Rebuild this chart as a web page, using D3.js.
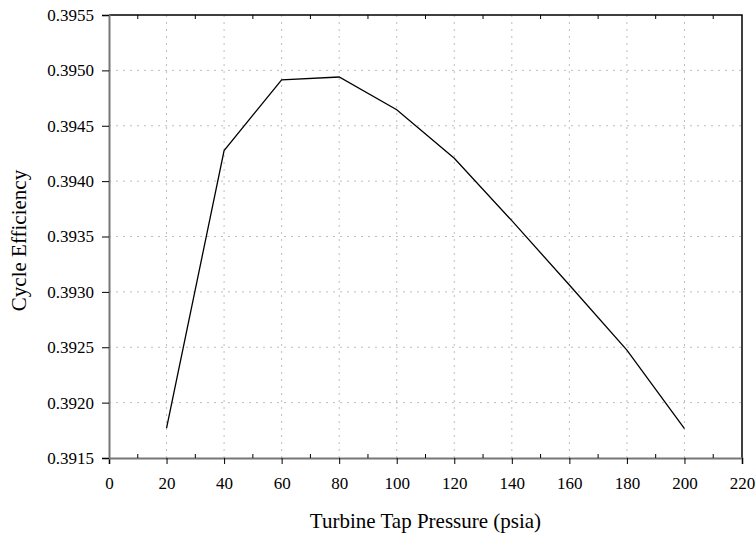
<!DOCTYPE html>
<html>
<head>
<meta charset="utf-8">
<script src="https://cdn.jsdelivr.net/npm/d3@7"></script>
<style>
  body { margin: 0; background: #fff; }
  svg { display: block; font-family: "Liberation Serif", "Times New Roman", serif; }
</style>
</head>
<body>
<script>
// turbine tap pressure (psia)
const pressure = [20, 40, 60, 80, 100, 120, 140, 160, 180, 200];
// cycle efficiency
const efficiency = [0.39177, 0.394276, 0.394915, 0.39494, 0.394644,
                    0.394207, 0.393643, 0.393062, 0.392474, 0.391766];

const xTicks = d3.range(0, 221, 20);
const xMinor = d3.range(10, 220, 20);
const yTicks = d3.range(0, 9).map(i => 0.3915 + i * 0.0005);

const width = 756, height = 535;
const margin = {left: 109, right: 14, top: 15, bottom: 77};

const svg = d3.select("body").append("svg")
  .attr("width", width)
  .attr("height", height);

const x = d3.scaleLinear().domain([0, 220]).range([margin.left, width - margin.right]);
const y = d3.scaleLinear().domain([0.3915, 0.3955]).range([height - margin.bottom, margin.top]);

const x0 = x.range()[0], x1 = x.range()[1];
const yb = y.range()[0], yt = y.range()[1];

// grid
const grid = svg.append("g")
  .attr("stroke", "#bdbdbd")
  .attr("stroke-width", 1)
  .attr("stroke-dasharray", "2,5");

grid.selectAll(".gx")
  .data(xTicks.filter(d => d > 0 && d < 220))
  .join("line")
  .attr("x1", d => x(d)).attr("x2", d => x(d))
  .attr("y1", yb).attr("y2", yt);

grid.selectAll(".gy")
  .data(yTicks.slice(1, -1))
  .join("line")
  .attr("y1", d => y(d)).attr("y2", d => y(d))
  .attr("x1", x0).attr("x2", x1);

// frame: top and right black
svg.append("path")
  .attr("d", `M${x0},${yt}H${x1}V${yb}`)
  .attr("fill", "none")
  .attr("stroke", "#000")
  .attr("stroke-width", 1.5);

// bottom axis
const xAxis = svg.append("g")
  .attr("transform", `translate(0,${yb})`)
  .call(d3.axisBottom(x).tickValues(xTicks).tickSize(6).tickPadding(13).tickFormat(d3.format("d")));
xAxis.select(".domain").attr("stroke", "#777").attr("stroke-width", 2);
xAxis.selectAll(".tick line").attr("stroke", "#000");
xAxis.selectAll("text")
  .attr("font-size", 17)
  .attr("font-family", "Liberation Serif")
  .attr("fill", "#000");

// minor x ticks (inside, bottom and top)
svg.append("g")
  .selectAll("line")
  .data(xMinor)
  .join("line")
  .attr("x1", d => x(d)).attr("x2", d => x(d))
  .attr("y1", yb).attr("y2", yb - 4)
  .attr("stroke", "#000");

svg.append("g")
  .selectAll("line")
  .data(xMinor)
  .join("line")
  .attr("x1", d => x(d)).attr("x2", d => x(d))
  .attr("y1", yt).attr("y2", yt + 4)
  .attr("stroke", "#000");

// left axis
const yAxis = svg.append("g")
  .attr("transform", `translate(${x0},0)`)
  .call(d3.axisLeft(y).tickValues(yTicks).tickSize(7).tickPadding(8).tickFormat(d3.format(".4f")));
yAxis.select(".domain").attr("stroke", "#777").attr("stroke-width", 2);
yAxis.selectAll(".tick line").attr("stroke", "#000");
yAxis.selectAll("text")
  .attr("font-size", 17)
  .attr("font-family", "Liberation Serif")
  .attr("fill", "#000");

// curve
const line = d3.line()
  .x((d, i) => x(pressure[i]))
  .y(d => y(d));

svg.append("path")
  .datum(efficiency)
  .attr("fill", "none")
  .attr("stroke", "#000")
  .attr("stroke-width", 1.3)
  .attr("d", line);

// axis titles
svg.append("text")
  .attr("x", (x0 + x1) / 2)
  .attr("y", 528)
  .attr("text-anchor", "middle")
  .attr("font-size", 21)
  .text("Turbine Tap Pressure (psia)");

svg.append("text")
  .attr("transform", `translate(26,${(yt + yb) / 2 + 4}) rotate(-90)`)
  .attr("text-anchor", "middle")
  .attr("font-size", 21)
  .text("Cycle Efficiency");
</script>
</body>
</html>
